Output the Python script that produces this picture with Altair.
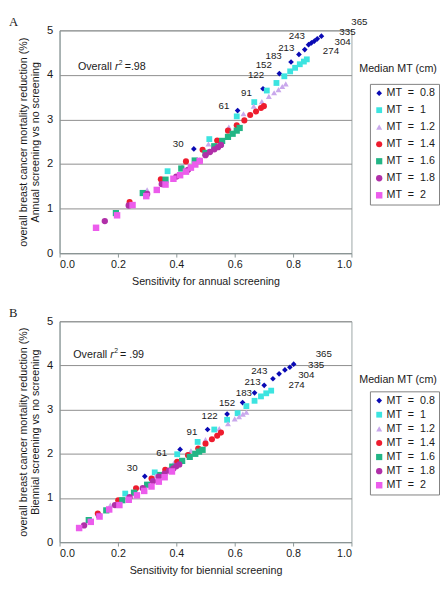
import altair as alt
import pandas as pd

NB = "\u00a0"
MT_VALUES = ["0.8", "1", "1.2", "1.4", "1.6", "1.8", "2"]
MT_NAMES = [f"MT{NB}{NB}={NB}{NB}{v}" for v in MT_VALUES]
INTERVALS = [30, 61, 91, 122, 152, 183, 213, 243, 274, 304, 335, 365]

# ---------------- Panel A (annual screening) ----------------
a08x = [0.46, 0.61, 0.697, 0.753, 0.793, 0.82, 0.84, 0.853, 0.863, 0.873, 0.883, 0.897]
a08y = [2.34, 3.20, 3.69, 4.03, 4.29, 4.46, 4.57, 4.68, 4.72, 4.76, 4.81, 4.87]
a10x = [0.37, 0.513, 0.607, 0.667, 0.71, 0.743, 0.77, 0.79, 0.807, 0.823, 0.837, 0.847]
a10y = [1.84, 2.56, 3.07, 3.39, 3.65, 3.82, 3.97, 4.08, 4.16, 4.24, 4.30, 4.35]
a12x = [0.30, 0.42, 0.51, 0.58, 0.63, 0.665, 0.693, 0.717, 0.735, 0.75, 0.763, 0.775]
a12y = [1.42, 1.95, 2.45, 2.83, 3.13, 3.30, 3.40, 3.52, 3.60, 3.67, 3.74, 3.80]
a14x = [0.24, 0.347, 0.433, 0.49, 0.54, 0.577, 0.607, 0.633, 0.653, 0.673, 0.69, 0.70]
a14y = [1.15, 1.66, 2.06, 2.32, 2.53, 2.75, 2.87, 2.98, 3.10, 3.18, 3.26, 3.30]
a16x = [0.193, 0.285, 0.363, 0.417, 0.463, 0.50, 0.53, 0.557, 0.577, 0.593, 0.607, 0.617]
a16y = [0.90, 1.35, 1.65, 1.90, 2.08, 2.25, 2.40, 2.52, 2.61, 2.68, 2.75, 2.81]
a18x = [0.155, 0.237, 0.30, 0.35, 0.40, 0.44, 0.48, 0.50, 0.515, 0.53, 0.543, 0.553]
a18y = [0.72, 1.07, 1.33, 1.55, 1.72, 1.87, 2.07, 2.20, 2.27, 2.33, 2.38, 2.43]
a20x = [0.125, 0.197, 0.25, 0.297, 0.333, 0.363, 0.39, 0.413, 0.433, 0.45, 0.465, 0.48]
a20y = [0.57, 0.85, 1.08, 1.28, 1.42, 1.54, 1.67, 1.75, 1.83, 1.92, 1.99, 2.07]

# ---------------- Panel B (biennial screening) ----------------
b08x = [0.292, 0.413, 0.507, 0.574, 0.627, 0.668, 0.701, 0.731, 0.752, 0.772, 0.789, 0.802]
b08y = [1.49, 2.10, 2.55, 2.90, 3.16, 3.38, 3.55, 3.70, 3.81, 3.90, 3.96, 4.03]
b10x = [0.225, 0.326, 0.403, 0.473, 0.53, 0.574, 0.61, 0.64, 0.668, 0.69, 0.708, 0.725]
b10y = [1.10, 1.58, 1.99, 2.27, 2.55, 2.77, 2.92, 3.08, 3.20, 3.30, 3.37, 3.43]
b12x = [0.174, 0.26, 0.33, 0.393, 0.45, 0.50, 0.547, 0.577, 0.60, 0.615, 0.628, 0.64]
b12y = [0.84, 1.18, 1.50, 1.81, 2.07, 2.32, 2.57, 2.68, 2.79, 2.84, 2.90, 2.94]
b14x = [0.131, 0.201, 0.262, 0.315, 0.362, 0.403, 0.44, 0.475, 0.50, 0.522, 0.54, 0.553]
b14y = [0.65, 0.95, 1.22, 1.44, 1.64, 1.82, 1.97, 2.12, 2.23, 2.33, 2.41, 2.48]
b16x = [0.10, 0.16, 0.215, 0.255, 0.30, 0.345, 0.386, 0.42, 0.446, 0.465, 0.478, 0.49]
b16y = [0.50, 0.72, 0.95, 1.12, 1.30, 1.52, 1.71, 1.84, 1.93, 2.00, 2.05, 2.09]
b18x = [0.084, 0.135, 0.19, 0.24, 0.285, 0.32, 0.34, 0.36, 0.375, 0.39, 0.40, 0.41]
b18y = [0.38, 0.60, 0.84, 1.02, 1.22, 1.38, 1.48, 1.55, 1.62, 1.67, 1.72, 1.76]
b20x = [0.067, 0.107, 0.137, 0.17, 0.205, 0.237, 0.265, 0.29, 0.315, 0.34, 0.36, 0.385]
b20y = [0.32, 0.46, 0.58, 0.74, 0.84, 0.96, 1.06, 1.16, 1.26, 1.37, 1.47, 1.60]

# ---------------- styles ----------------
MT_COLORS = ["#0A0AB4", "#3CE4E0", "#C9A8EC", "#EE1C2E", "#22B585", "#B02FA8", "#EC5CEC"]
MT_SHAPES = ["diamond", "square", "triangle-up", "circle", "square", "circle", "square"]
MT_SIZES = [34, 44, 40, 42, 44, 40, 46]

# label offsets (px) relative to the MT=0.8 point
OFFS_A = {30: (-16, -5), 61: (-14, -5), 91: (-17, 4), 122: (-24, 2), 152: (-28, 3), 183: (-26, 2),
          213: (-19, -2), 243: (-12, -9), 274: (20, 8), 304: (29, 1), 335: (31, -7), 365: (39, -14)}
OFFS_B = {30: (-13, -8), 61: (-19, 4), 91: (-16, 3), 122: (-18, 2), 152: (-16, 1), 183: (-11, 0),
          213: (-12, -3), 243: (-14, -8), 274: (18, 12), 304: (22, 5), 335: (27, -2), 365: (31, -10)}

FONT = "Liberation Sans"
TXT = "#1a1a1a"
W = 300


def series_df(xs, ys):
    rows = []
    for name, x, y in zip(MT_NAMES, xs, ys):
        for xi, yi in zip(x, y):
            rows.append({"mt": name, "x": xi, "y": yi})
    return pd.DataFrame(rows)


def label_df(x, y, offs, H):
    rows = []
    for iv, xi, yi in zip(INTERVALS, x, y):
        dx, dy = offs[iv]
        rows.append({"lab": str(iv), "x": xi + dx / W, "y": yi - dy * 5.0 / H})
    return pd.DataFrame(rows)


def panel(df, ldf, letter, ytitle2, xtitle, H, r2pos, r2val, leg_y, title_y, row_pad):
    xs = alt.Scale(domain=[0, 1], nice=False, zero=False)
    ys = alt.Scale(domain=[0, 5], nice=False, zero=False)
    legend = alt.Legend(
        orient="none", legendX=319, legendY=leg_y, title=None,
        strokeColor="#808080", fillColor="white", padding=4,
        labelFont=FONT, labelFontSize=11, labelColor=TXT, labelOffset=2,
        rowPadding=row_pad, symbolStrokeWidth=0,
    )
    pts = alt.Chart(df).mark_point(filled=True, opacity=1, strokeWidth=0).encode(
        x=alt.X("x:Q", scale=xs, title=xtitle,
                axis=alt.Axis(values=[0, 0.2, 0.4, 0.6, 0.8, 1.0], format=".1f", grid=False,
                              tickSize=4, tickColor="#8A9696", domainColor="#8A9696",
                              labelPadding=2, labelFont=FONT, labelFontSize=11, labelColor=TXT,
                              titleFont=FONT, titleFontSize=11, titleFontWeight="normal",
                              titleColor=TXT, titlePadding=6)),
        y=alt.Y("y:Q", scale=ys, title=["overall breast cancer mortality reduction (%)", ytitle2],
                axis=alt.Axis(values=[0, 0.5, 1, 1.5, 2, 2.5, 3, 3.5, 4, 4.5, 5], format="~g",
                              grid=True, gridColor="#8C8C8C", ticks=False, domainColor="#8A9696",
                              labelPadding=7, labelFont=FONT, labelFontSize=11.5, labelColor=TXT,
                              titleFont=FONT, titleFontSize=11, titleFontWeight="normal",
                              titleColor=TXT, titlePadding=6, titleLineHeight=13)),
        color=alt.Color("mt:N", scale=alt.Scale(domain=MT_NAMES, range=MT_COLORS), legend=legend),
        shape=alt.Shape("mt:N", scale=alt.Scale(domain=MT_NAMES, range=MT_SHAPES), legend=legend),
        size=alt.Size("mt:N", scale=alt.Scale(domain=MT_NAMES, range=MT_SIZES), legend=legend),
    )
    labs = alt.Chart(ldf).mark_text(align="center", baseline="middle", font=FONT, fontSize=10,
                                    color=TXT).encode(x=alt.X("x:Q", scale=xs), y=alt.Y("y:Q", scale=ys),
                                                      text="lab:N")
    ann = pd.DataFrame({"x": [r2pos[0]], "y": [r2pos[1]]})
    base_ann = alt.Chart(ann)
    enc = dict(x=alt.X("x:Q", scale=xs), y=alt.Y("y:Q", scale=ys))
    t1 = base_ann.mark_text(align="left", baseline="middle", font=FONT, fontSize=11, color=TXT,
                            text="Overall").encode(**enc)
    t2 = base_ann.mark_text(align="left", baseline="middle", font=FONT, fontSize=11, color=TXT,
                            fontStyle="italic", text="r", dx=38).encode(**enc)
    t3 = base_ann.mark_text(align="left", baseline="middle", font=FONT, fontSize=7, color=TXT,
                            text="2", dx=42, dy=-4).encode(**enc)
    t4 = base_ann.mark_text(align="left", baseline="middle", font=FONT, fontSize=11, color=TXT,
                            text=r2val, dx=48).encode(**enc)
    tdf = pd.DataFrame({"t": ["Median MT (cm)"]})
    ltitle = alt.Chart(tdf).mark_text(align="left", baseline="middle", font=FONT, fontSize=11,
                                      color=TXT).encode(x=alt.value(308), y=alt.value(title_y), text="t:N")
    ldf2 = pd.DataFrame({"t": [letter]})
    letter_m = alt.Chart(ldf2).mark_text(align="left", baseline="top", font="Liberation Serif",
                                         fontSize=13, color=TXT).encode(x=alt.value(-52), y=alt.value(-14),
                                                                         text="t:N")
    return alt.layer(pts, labs, t1, t2, t3, t4, ltitle, letter_m).properties(width=W, height=H)


dfA = series_df([a08x, a10x, a12x, a14x, a16x, a18x, a20x], [a08y, a10y, a12y, a14y, a16y, a18y, a20y])
dfB = series_df([b08x, b10x, b12x, b14x, b16x, b18x, b20x], [b08y, b10y, b12y, b14y, b16y, b18y, b20y])
HA, HB = 229, 227
lA = label_df(a08x, a08y, OFFS_A, HA)
lB = label_df(b08x, b08y, OFFS_B, HB)

pA = panel(dfA, lA, "A", "Annual screening vs no screening", "Sensitivity for annual screening",
           HA, (0.063, 4.18), "=.98", 55, 40, 5.5)
pB = panel(dfB, lB, "B", "Biennial screening vs no screening", "Sensitivity for biennial screening",
           HB, (0.047, 4.24), "= .99", 72, 60, 2.5)

chart = alt.vconcat(pA, pB, spacing=20).resolve_scale(
    color="independent", shape="independent", size="independent"
).resolve_legend(color="independent", shape="independent", size="independent").properties(
    padding=0, background="white"
).configure_view(stroke="#9AA5A5", strokeWidth=1)

chart.save("out.html", embed_options={"renderer": "svg", "actions": False})
